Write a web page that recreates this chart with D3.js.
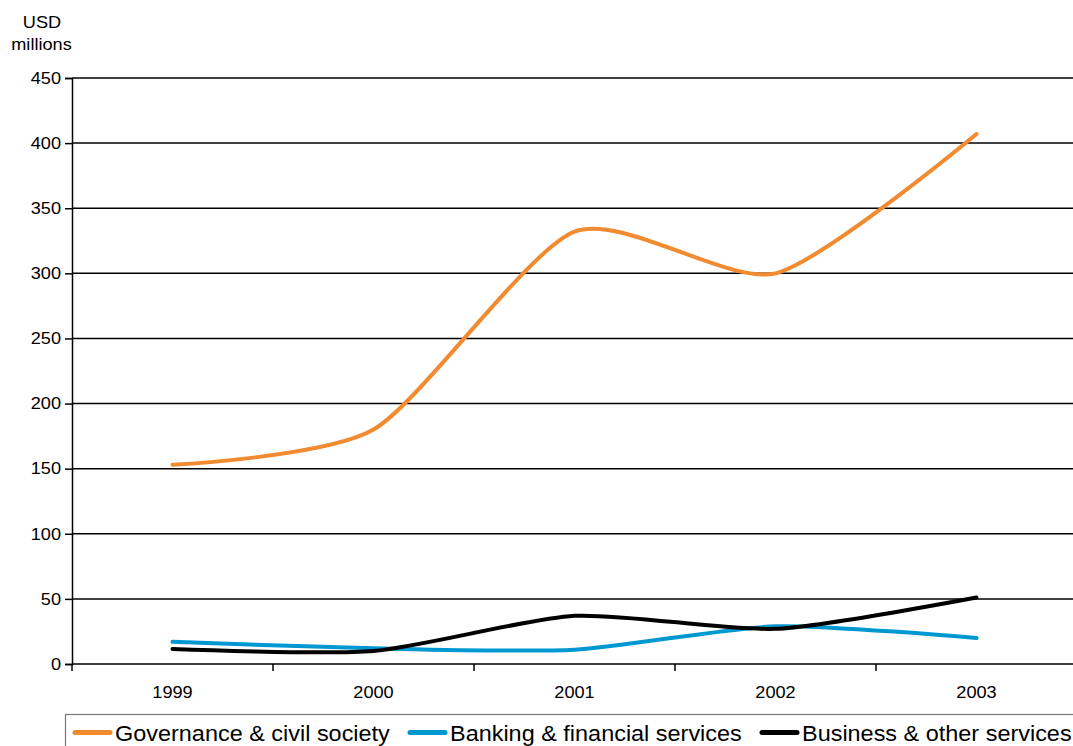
<!DOCTYPE html>
<html><head><meta charset="utf-8">
<script src="https://cdn.jsdelivr.net/npm/d3@7"></script>
<style>body{margin:0;background:#fff;} svg{display:block;font-family:"Liberation Sans",Arial,sans-serif;}</style>
</head><body>
<svg id="c" width="1073" height="746"></svg>
<script>
const years = ["1999","2000","2001","2002","2003"];
const governance = [153, 180, 332, 300, 407];
const banking = [17, 12, 11, 29, 20];
const business = [11.5, 10, 37, 27, 51];
const yTicks = [0,50,100,150,200,250,300,350,400,450];
const seriesNames = ["Governance & civil society","Banking & financial services","Business & other services"];
const colors = ["#F28A30","#0098D0","#000000"];

const svg = d3.select("#c");
const L=72, R=1077, T=78, B=664;
const x = d3.scaleBand().domain(years).range([L,R]);
const y = d3.scaleLinear().domain([0,450]).range([B,T]);
const FF = "Liberation Sans, Arial, sans-serif";
function stretch(sel, k){ sel.each(function(){ const w=this.getComputedTextLength(); d3.select(this).attr("textLength", w*k).attr("lengthAdjust","spacingAndGlyphs"); }); }

// gridlines
svg.append("g").selectAll("line").data(yTicks.filter(d=>d>0)).join("line")
  .attr("x1",L).attr("x2",R).attr("y1",d=>y(d)).attr("y2",d=>y(d))
  .attr("stroke","#000").attr("stroke-width",1.5);

// y axis
const ya = svg.append("g").attr("transform",`translate(${L},0)`)
  .call(d3.axisLeft(y).tickValues(yTicks).tickSize(7).tickPadding(4));
ya.select(".domain").attr("stroke","#000").attr("stroke-width",1.5);
ya.selectAll(".tick line").attr("stroke","#000").attr("stroke-width",1.5);
ya.selectAll("text").attr("font-size",16.5).attr("fill","#000").attr("font-family",FF).call(stretch,1.1);

// x axis
const xa = svg.append("g").attr("transform",`translate(0,${B})`);
xa.append("line").attr("x1",L).attr("x2",R).attr("stroke","#000").attr("stroke-width",1.5);
const bounds = years.map(d=>x(d)).concat([R]);
xa.selectAll("line.tk").data(bounds).join("line").attr("class","tk")
  .attr("x1",d=>d).attr("x2",d=>d).attr("y1",0).attr("y2",7)
  .attr("stroke","#000").attr("stroke-width",1.5);
xa.selectAll("text").data(years).join("text")
  .attr("x",d=>x(d)+x.bandwidth()/2).attr("y",34)
  .attr("text-anchor","middle").attr("font-size",16.5).attr("fill","#000").text(d=>d).call(stretch,1.1);

// axis title
svg.append("text").attr("x",42).attr("y",28).attr("text-anchor","middle").attr("font-size",16.5).text("USD").call(stretch,1.1);
svg.append("text").attr("x",41.5).attr("y",50).attr("text-anchor","middle").attr("font-size",16.5).text("millions").call(stretch,1.1);

// lines
const line = d3.line().x((d,i)=>x(years[i])+x.bandwidth()/2).y(d=>y(d)).curve(d3.curveCardinal.tension(0.3));
[governance,banking,business].forEach((s,i)=>{
  svg.append("path").datum(s).attr("d",line).attr("fill","none")
    .attr("stroke",colors[i]).attr("stroke-width",4).attr("stroke-linecap","round");
});

// legend
const lg = svg.append("g");
lg.append("rect").attr("x",65.5).attr("y",714.5).attr("width",1020).attr("height",50)
  .attr("fill","#fff").attr("stroke","#777").attr("stroke-width",1.2);
const lx = [75, 410, 762];
seriesNames.forEach((n,i)=>{
  lg.append("line").attr("x1",lx[i]).attr("x2",lx[i]+35).attr("y1",732.5).attr("y2",732.5)
    .attr("stroke",colors[i]).attr("stroke-width",5).attr("stroke-linecap","round");
  lg.append("text").attr("x",lx[i]+40).attr("y",740.5).attr("font-size",21.5).attr("fill","#000").text(n).call(stretch,1.09);
});
</script>
</body></html>
